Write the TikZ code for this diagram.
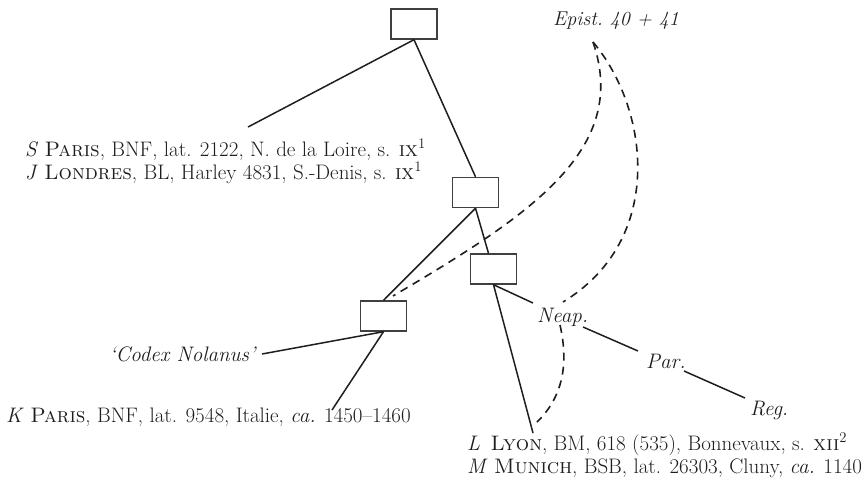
\documentclass[tikz,border=0pt]{standalone}
\definecolor{ink}{HTML}{1E1E1E}
\definecolor{boxc}{HTML}{404040}
\begin{document}
\begin{tikzpicture}[x=1pt,y=-1pt,
  box/.style={draw=boxc, line width=1.4pt, minimum width=46pt, minimum height=30pt, inner sep=0pt},
  txt/.style={inner sep=0pt, text=ink, font=\fontsize{21}{25}\selectfont},
  conn/.style={draw=ink, line width=1.5pt},
  dline/.style={draw=ink, line width=1.6pt, dash pattern=on 8pt off 6pt}]
\useasboundingbox (0,0) rectangle (867,480);
% boxes
\node[box] (b1) at (414,24) {};
\node[box] (b2) at (475.5,192.5) {};
\node[box] (b3) at (493.5,269) {};
\node[box] (b4) at (383.5,316) {};
% texts
\node[txt, anchor=base west] (S) at (25,156) {\textit{S} \textsc{Paris}, BNF, lat. 2122, N. de la Loire, s. \textsc{ix}\textsuperscript{1}};
\node[txt, anchor=base west] (J) at (25,179) {\textit{J} \textsc{Londres}, BL, Harley 4831, S.-Denis, s. \textsc{ix}\textsuperscript{1}};
\node[txt, anchor=base east] (cn) at (257,361) {\textit{`Codex Nolanus'}};
\node[txt, anchor=base west] (K) at (6,422) {\textit{K} \textsc{Paris}, BNF, lat. 9548, Italie, \textit{ca.} 1450--1460};
\node[txt, anchor=base west] (L) at (467,450) {\textit{L}\enspace\textsc{Lyon}, BM, 618 (535), Bonnevaux, s. \textsc{xii}\textsuperscript{2}};
\node[txt, anchor=base west] (M) at (467,473) {\textit{M} \textsc{Munich}, BSB, lat. 26303, Cluny, \textit{ca.} 1140};
\node[txt, anchor=base west, font=\fontsize{20}{24}\selectfont] (ep) at (553,25) {\textit{Epist.\ 40 + 41}};
\node[txt, anchor=base west] (neap) at (537,322) {\textit{Neap.}};
\node[txt, anchor=base west] (par) at (646,368) {\textit{Par.}};
\node[txt, anchor=base west] (reg) at (750,415) {\textit{Reg.}};
% connector ends
\coordinate (sj) at (248,127);
\coordinate (cnE) at (262,354);
\coordinate (kE) at (332,410);
\coordinate (lE) at (533,433);
\coordinate (nIn) at (533,303);
\coordinate (nOut) at (583,327);
\coordinate (pIn) at (638,351);
\coordinate (pOut) at (684,371);
\coordinate (rIn) at (745,398);
\coordinate (epS) at (593,42);
\coordinate (dA) at (393,296);
\coordinate (dB) at (563,302);
\coordinate (dC1) at (560,325);
\coordinate (dC2) at (537,422);
% solid connectors
\draw[conn] (b1.south) -- (sj);
\draw[conn] (b1.south) -- (b2.north);
\draw[conn] (b2.south) -- ([xshift=-5pt]b3.north);
\draw[conn] (b2.south) -- (b4.north);
\draw[conn] (b4.south) -- (cnE);
\draw[conn] (b4.south) -- (kE);
\draw[conn] (b3.south) -- (nIn);
\draw[conn] (b3.south) -- (lE);
\draw[conn] (nOut) -- (pIn);
\draw[conn] (pOut) -- (rIn);
% dashed connectors
\draw[dline] (epS) .. controls (630,150) and (530,215) .. (dA);
\draw[dline] (epS) .. controls (650,110) and (665,240) .. (dB);
\draw[dline] (dC1) .. controls (568,360) and (565,395) .. (dC2);
\end{tikzpicture}
\end{document}
